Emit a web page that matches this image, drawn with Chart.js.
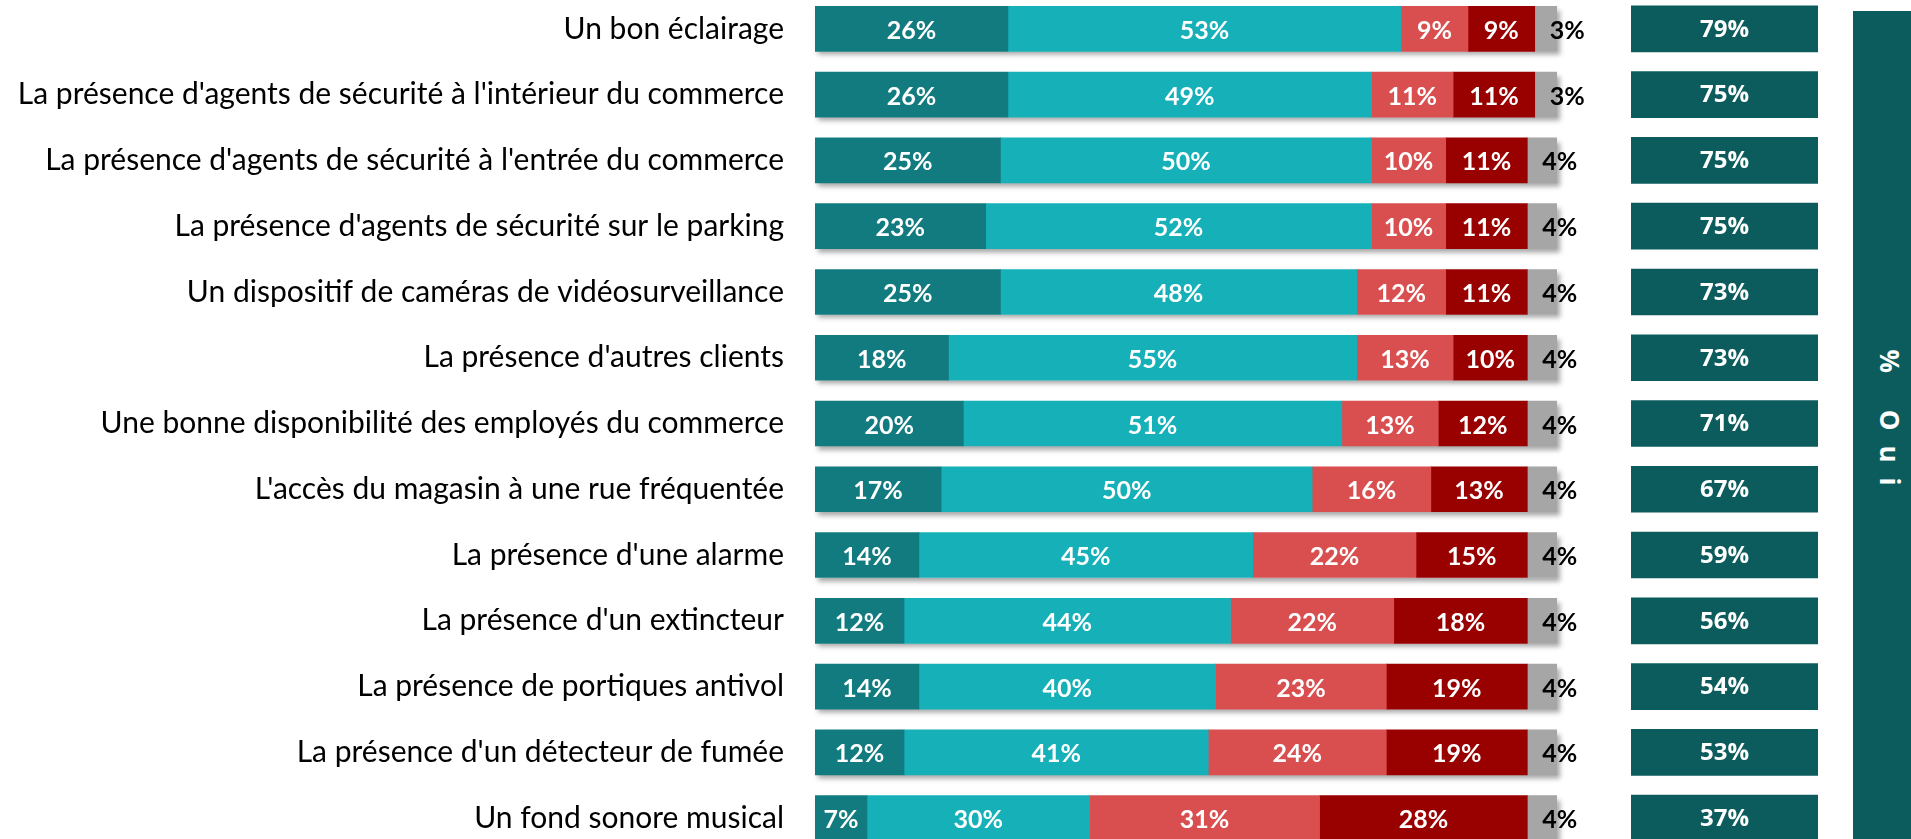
<!DOCTYPE html>
<html lang="fr">
<head>
<meta charset="utf-8">
<title>Éléments de sécurité</title>
<script src="https://cdn.jsdelivr.net/npm/chart.js@4.4.1/dist/chart.umd.min.js"></script>
<style>
  html, body { margin: 0; padding: 0; background: #fff; overflow: hidden; }
  body { width: 1911px; height: 839px; position: relative; }
  /* l'axe y ajoute (demi-hauteur d'étiquette + padding) en haut et en bas : compensé ici */
  #mainWrap { position: absolute; left: 0; top: -53px; width: 1600px; height: 953px; }
  #ouiWrap { position: absolute; left: 1631px; top: -4px; width: 187px; height: 855px; }
  #ouiBand {
    position: absolute; left: 1853px; top: 11px; width: 58px; height: 828px;
    background: #0d5c5d;
  }
  #ouiBand span {
    position: absolute; left: 50%; top: 50%;
    transform: translate(-50%, -50%) rotate(90deg);
    white-space: nowrap; color: #fff;
    font: bold 26px "Open Sans", sans-serif; letter-spacing: 15px;
    margin-left: 8px;
  }
</style>
</head>
<body>
<div id="mainWrap"><canvas id="mainChart"></canvas></div>
<div id="ouiWrap"><canvas id="ouiChart"></canvas></div>
<div id="ouiBand"><span>% Oui</span></div>

<script>
// --- données ---
const categories = [
  "Un bon éclairage",
  "La présence d'agents de sécurité à l'intérieur du commerce",
  "La présence d'agents de sécurité à l'entrée du commerce",
  "La présence d'agents de sécurité sur le parking",
  "Un dispositif de caméras de vidéosurveillance",
  "La présence d'autres clients",
  "Une bonne disponibilité des employés du commerce",
  "L'accès du magasin à une rue fréquentée",
  "La présence d'une alarme",
  "La présence d'un extincteur",
  "La présence de portiques antivol",
  "La présence d'un détecteur de fumée",
  "Un fond sonore musical"
];
const tresImportant      = [26, 26, 25, 23, 25, 18, 20, 17, 14, 12, 14, 12, 7];
const plutotImportant    = [53, 49, 50, 52, 48, 55, 51, 50, 45, 44, 40, 41, 30];
const plutotPasImportant = [9, 11, 10, 10, 12, 13, 13, 16, 22, 22, 23, 24, 31];
const pasDuTout          = [9, 11, 11, 11, 11, 10, 12, 13, 15, 18, 19, 19, 28];
const nsp                = [3, 3, 4, 4, 4, 4, 4, 4, 4, 4, 4, 4, 4];
const ouiTotal           = [79, 75, 75, 75, 73, 73, 71, 67, 59, 56, 54, 53, 37];

const colors = ["#127b80", "#15b0b8", "#d94f50", "#990000", "#a6a6a6"];

// ombre portée : une seule par barre empilée, dessinée avant les segments
const shadowPlugin = {
  id: "shadow",
  beforeDatasetsDraw(chart) {
    const ctx = chart.ctx;
    const n = chart.data.datasets.length;
    const first = chart.getDatasetMeta(0).data;
    const lastMeta = chart.getDatasetMeta(n - 1).data;
    ctx.save();
    ctx.shadowColor = "rgba(0,0,0,0.35)";
    ctx.shadowBlur = 5;
    ctx.shadowOffsetX = 3;
    ctx.shadowOffsetY = 4;
    ctx.fillStyle = "#fff";
    first.forEach((bar, i) => {
      const end = lastMeta[i];
      ctx.fillRect(bar.base, bar.y - bar.height / 2, end.x - bar.base, bar.height);
    });
    ctx.restore();
  }
};

// étiquettes de valeurs
const labelPlugin = {
  id: "valueLabels",
  afterDatasetsDraw(chart) {
    const ctx = chart.ctx;
    ctx.save();
    ctx.textBaseline = "middle";
    ctx.font = "bold 25px Lato, sans-serif";
    chart.data.datasets.forEach((ds, di) => {
      const meta = chart.getDatasetMeta(di);
      const last = di === chart.data.datasets.length - 1;
      meta.data.forEach((bar, i) => {
        const txt = ds.data[i] + "%";
        if (last) {
          ctx.fillStyle = "#000";
          ctx.textAlign = "left";
          ctx.fillText(txt, bar.base + 15, bar.y + 2);
        } else {
          ctx.fillStyle = "#fff";
          ctx.textAlign = "center";
          ctx.fillText(txt, (bar.x + bar.base) / 2, bar.y + 2);
        }
      });
    });
    ctx.restore();
  }
};

const series = [tresImportant, plutotImportant, plutotPasImportant, pasDuTout, nsp];
const seriesNames = ["Très important", "Plutôt important", "Plutôt pas important", "Pas du tout important", "NSP"];

new Chart(document.getElementById("mainChart"), {
  type: "bar",
  data: {
    labels: categories,
    datasets: series.map((d, i) => ({
      label: seriesNames[i],
      data: d,
      backgroundColor: colors[i],
      borderWidth: 0,
      barThickness: 45
    }))
  },
  options: {
    indexAxis: "y",
    responsive: true,
    maintainAspectRatio: false,
    animation: false,
    layout: { padding: { top: 0, bottom: 0, left: 0, right: 43 } },
    plugins: { legend: { display: false }, tooltip: { enabled: false } },
    scales: {
      x: { stacked: true, min: 0, max: 100, display: false },
      y: {
        stacked: true,
        grid: { display: false, drawTicks: false },
        border: { display: false },
        ticks: { color: "#000", padding: 31, font: { family: "Lato", size: 30, lineHeight: 1.2 } },
        afterFit(scale) { scale.width = 815; }
      }
    }
  },
  plugins: [shadowPlugin, labelPlugin]
});

// colonne "% Oui" : cellules de largeur égale
const ouiLabelPlugin = {
  id: "ouiLabels",
  afterDatasetsDraw(chart) {
    const ctx = chart.ctx;
    const meta = chart.getDatasetMeta(0);
    ctx.save();
    ctx.fillStyle = "#fff";
    ctx.textAlign = "center";
    ctx.textBaseline = "middle";
    ctx.font = "bold 24px 'Open Sans', sans-serif";
    meta.data.forEach((bar, i) => {
      ctx.fillText(ouiTotal[i] + "%", (bar.x + bar.base) / 2, bar.y + 1);
    });
    ctx.restore();
  }
};

new Chart(document.getElementById("ouiChart"), {
  type: "bar",
  data: {
    labels: categories,
    datasets: [{
      label: "% Oui",
      data: ouiTotal.map(() => 1),
      backgroundColor: "#0d5c5d",
      borderWidth: 0,
      barThickness: 46
    }]
  },
  options: {
    indexAxis: "y",
    responsive: true,
    maintainAspectRatio: false,
    animation: false,
    plugins: { legend: { display: false }, tooltip: { enabled: false } },
    scales: {
      x: { min: 0, max: 1, display: false },
      y: { display: false }
    }
  },
  plugins: [ouiLabelPlugin]
});
</script>
</body>
</html>
